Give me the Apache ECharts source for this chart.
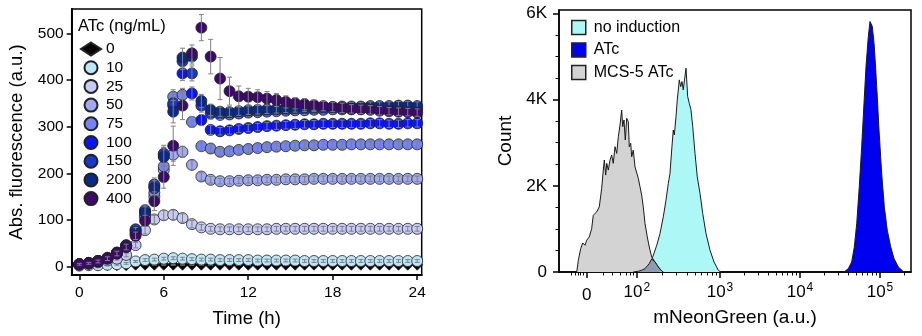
<!DOCTYPE html>
<html><head><meta charset="utf-8">
<script src="https://cdn.jsdelivr.net/npm/echarts@6/dist/echarts.min.js"></script>
<style>html,body{margin:0;padding:0;background:#fff}#c{width:922px;height:336px}</style>
</head><body><div id="c"></div>
<script>
// ---------- Left panel: time course ----------
const hours = [0,0.67,1.33,2,2.67,3.33,4,4.67,5.33,6,6.67,7.33,8,8.67,9.33,10,10.67,11.33,12,12.67,13.33,14,14.67,15.33,16,16.67,17.33,18,18.67,19.33,20,20.67,21.33,22,22.67,23.33,24];
const concLabels = ['0','10','25','50','75','100','150','200','400'];
const timeTicks = [0,6,12,18,24];
const fluorTicks = [0,100,200,300,400,500];

const atc0   = [3,3,3,3,3,3,4,4,4,4,4,4,4,4,4,4,4,4,4,4,4,4,4,4,4,4,4,4,4,4,4,4,4,4,4,4,4];
const atc10  = [2,3,3,4,5,7,11,14,15,17,18,17,16,15,15,14,14,14,14,13,13,13,13,13,12,12,12,12,12,12,12,12,12,12,12,12,12];
const atc25  = [4,6,9,13,17,25,46,78,101,110,111,104,91,84,81,80,80,80,80,80,80,81,81,81,81,81,81,81,81,81,81,81,81,81,81,81,81];
const atc50  = [5,7,11,17,28,42,70,106,150,207,240,246,218,193,186,183,183,184,185,185,186,186,187,187,187,188,188,188,188,188,188,188,188,188,188,188,188];
const atc75  = [5,7,12,18,29,44,72,110,158,215,364,368,310,258,253,246,247,250,252,254,256,257,258,259,260,260,261,261,261,262,262,262,262,262,262,262,262];
const atc100 = [5,7,12,18,29,45,78,118,172,240,345,414,371,314,293,290,292,295,297,299,301,302,303,304,305,305,306,306,306,306,306,307,307,306,306,307,307];
const atc150 = [5,8,12,19,30,46,80,121,176,242,350,440,414,345,328,325,326,328,330,331,332,333,334,335,335,336,336,337,337,337,338,338,338,339,339,339,338];
const atc200 = [5,8,12,18,30,45,76,116,168,235,332,448,450,355,336,332,331,333,335,336,337,338,339,340,341,341,342,342,343,343,343,344,344,344,345,345,344];
const atc400 = [5,7,11,17,28,42,66,98,140,192,259,345,457,512,450,403,376,365,364,363,360,357,353,350,348,346,344,342,340,338,337,336,334,333,332,331,330];

const err0   = [1,1,1,1,1,1,1,1,1,1,1,1,1,1,1,1,1,1,1,1,1,1,1,1,1,1,1,1,1,1,1,1,1,1,1,1,1];
const err10  = [1,1,1,1,2,2,2,3,3,3,3,3,3,3,3,3,3,3,3,3,3,3,3,3,3,3,3,3,3,3,3,3,3,3,3,3,3];
const err25  = [1,1,2,2,3,4,6,8,9,10,10,9,8,6,5,5,5,5,5,5,5,5,5,5,5,5,5,5,5,5,5,5,5,5,5,5,5];
const err50  = [1,2,2,3,4,5,7,9,12,14,14,12,10,8,7,6,6,6,6,6,6,6,6,6,6,6,6,6,6,6,6,6,6,6,6,6,6];
const err75  = [1,2,2,3,4,5,7,10,12,15,15,14,12,10,8,7,7,7,7,7,7,7,7,7,7,7,7,7,7,7,7,7,7,7,7,7,7];
const err100 = [1,2,2,3,4,6,8,10,14,16,18,15,14,12,10,8,8,8,8,8,8,8,8,8,8,8,8,8,8,8,8,8,8,8,8,8,8];
const err150 = [1,2,2,3,4,6,8,11,14,18,22,18,16,14,12,10,9,9,9,9,9,9,9,9,9,9,9,9,9,9,9,9,9,9,9,9,9];
const err200 = [1,2,2,3,4,6,8,12,16,20,24,20,16,14,12,10,9,9,9,9,9,9,9,9,9,9,9,9,9,9,9,9,9,9,9,9,9];
const err400 = [2,2,3,4,5,6,8,12,20,24,42,30,18,28,37,45,30,22,18,16,15,14,13,12,12,11,10,10,10,9,9,9,9,8,8,8,8];

// ---------- Right panel: flow histograms (x in display/decade units) ----------
const flowTickPos = [1.334, 1.96, 3, 4, 5];
const flowTickExp = [null, 2, 3, 4, 5];
const flowMinorTicks = [1.146,1.1875,1.225,1.256,1.2875,1.5375,1.65,1.75,1.825,1.875,1.9125,
  2.273,2.456,2.586,2.687,2.769,2.839,2.899,2.952,
  3.301,3.477,3.602,3.699,3.778,3.845,3.903,3.954,
  4.301,4.477,4.602,4.699,4.778,4.845,4.903,4.954,5.301];
const countTicks = [0,2000,4000,6000];
const countMinorTicks = [500,1000,1500,2500,3000,3500,4500,5000,5500];

const mcsX = [1.209,1.229,1.259,1.284,1.3125,1.334,1.366,1.396,1.416,1.4375,1.459,1.491,1.521,1.541,1.554,1.571,1.584,1.604,1.625,1.646,1.666,1.6875,1.709,1.729,1.75,1.771,1.784,1.80,1.816,1.834,1.854,1.866,1.884,1.896,1.916,1.9375,1.979,2.0,2.021,2.041,2.0625,2.091,2.116,2.146,2.1875,2.229,2.271,2.291];
const mcsCount = [0,272,544,674,620,737,814,1009,1318,1279,1395,1512,1940,2365,2598,2249,2521,2365,2598,2714,2521,2907,2753,3140,3412,3760,3372,3528,3063,3567,3488,2907,2986,2674,2830,2442,2172,1977,1784,1512,1126,814,581,349,233,116,23,0];
const noIndX = [1.916,2.0,2.0625,2.116,2.159,2.209,2.25,2.291,2.325,2.354,2.375,2.396,2.416,2.429,2.45,2.466,2.479,2.491,2.509,2.525,2.541,2.559,2.575,2.584,2.596,2.616,2.6375,2.659,2.6875,2.716,2.75,2.784,2.825,2.875,2.925,2.979,3.009];
const noIndCount = [0,23,79,195,349,620,893,1279,1667,2056,2288,2830,3295,3179,3605,3993,4226,4458,4302,4419,4226,4498,4730,4458,4070,3916,3760,3372,2753,2209,1823,1358,893,505,233,40,0];
const atcX = [4.55,4.604,4.646,4.679,4.709,4.741,4.771,4.80,4.825,4.854,4.875,4.8875,4.904,4.929,4.959,4.9875,5.021,5.054,5.091,5.134,5.175,5.229,5.284,5.30];
const atcCount = [0,79,233,581,1126,1977,2907,3916,4767,5465,5814,5853,5698,5233,4302,3295,2288,1512,970,581,312,116,23,0];

// ---------- build ----------
const FONT = 'Liberation Sans, Arial, sans-serif';
const seriesVals = [atc0,atc10,atc25,atc50,atc75,atc100,atc150,atc200,atc400];
const seriesErrs = [err0,err10,err25,err50,err75,err100,err150,err200,err400];
const seriesColors = ['#000000','#bde6f8','#c6caf4','#a0a9f2','#7485f2','#0a14ff','#1838c8','#0a2a88','#3c0a6a'];

function errRender(params, api){
  const x = api.value(0), y = api.value(1), e = api.value(2);
  const hi = api.coord([x, y + e]), lo = api.coord([x, y - e]);
  const w = 2.5, st = {stroke:'#808080', lineWidth:1};
  return {type:'group', children:[
    {type:'line', shape:{x1:hi[0],y1:hi[1],x2:lo[0],y2:lo[1]}, style:st},
    {type:'line', shape:{x1:hi[0]-w,y1:hi[1],x2:hi[0]+w,y2:hi[1]}, style:st},
    {type:'line', shape:{x1:lo[0]-w,y1:lo[1],x2:lo[0]+w,y2:lo[1]}, style:st}
  ]};
}

const series = [];
concLabels.forEach((name, k) => {
  series.push({
    name, type:'scatter', xAxisIndex:0, yAxisIndex:0,
    symbol: k === 0 ? 'diamond' : 'circle', symbolSize: 11,
    itemStyle:{color: seriesColors[k], borderColor:'#222', borderWidth:0.8, opacity:1},
    data: hours.map((t,i) => [t, seriesVals[k][i]]),
    z: 2 + k*0.01, silent:true
  });
  series.push({
    type:'custom', xAxisIndex:0, yAxisIndex:0, renderItem: errRender,
    data: hours.map((t,i) => [t, seriesVals[k][i], seriesErrs[k][i]]),
    z: 2 + k*0.01 + 0.005, silent:true
  });
});

function interp(xs, ys, x){
  if (x <= xs[0] || x >= xs[xs.length-1]) return 0;
  for (let i = 1; i < xs.length; i++){
    if (x <= xs[i]) { const f = (x - xs[i-1])/(xs[i]-xs[i-1]); return ys[i-1] + f*(ys[i]-ys[i-1]); }
  }
  return 0;
}
const ovLo = noIndX[0], ovHi = mcsX[mcsX.length-1];
const ovX = Array.from(new Set(mcsX.concat(noIndX).filter(x => x >= ovLo && x <= ovHi))).sort((a,b)=>a-b);
const ovData = ovX.map(x => [x, Math.min(interp(mcsX,mcsCount,x), interp(noIndX,noIndCount,x))]);

function flowSeries(name, xs, ys, fill, z){
  return {name, type:'line', xAxisIndex:1, yAxisIndex:1, symbol:'none', smooth:false,
    data: xs.map((x,i)=>[x, ys[i]]),
    lineStyle:{color:'#1a1a1a', width:1}, itemStyle:{color: fill},
    areaStyle:{color: fill, opacity:1}, z, silent:true};
}
series.push(flowSeries('no induction', noIndX, noIndCount, '#adf7f7', 2));
series.push(flowSeries('ATc', atcX, atcCount, '#0000f0', 2.1));
series.push(flowSeries('MCS-5 ATc', mcsX, mcsCount, '#d3d3d3', 2.2));
series.push({type:'line', xAxisIndex:1, yAxisIndex:1, symbol:'none', data: ovData,
  lineStyle:{color:'#1a1a1a', width:1}, areaStyle:{color:'#8e9bb3', opacity:1}, z:2.3, silent:true});

const L0 = 71.7, LT = 9, LW = 350, LH = 266;
const R0 = 559, RT = 10, RW = 352, RH = 262;

const option = {
  animation:false,
  textStyle:{fontFamily:FONT, color:'#000'},
  title:{text:'ATc (ng/mL)', left:73, top:13, textStyle:{fontFamily:FONT, fontSize:16.5, fontWeight:'normal', color:'#000'}},
  grid:[
    {left:L0, top:LT, width:LW, height:LH, show:true, borderColor:'#000', borderWidth:1.5, containLabel:false},
    {left:R0, top:RT, width:RW, height:RH, show:true, borderColor:'#000', borderWidth:1.5, containLabel:false}
  ],
  legend:[
    {data: concLabels, orient:'vertical', left:75, top:36, itemWidth:20, itemHeight:13, itemGap:2.7,
     textStyle:{fontFamily:FONT, fontSize:15.5, lineHeight:15, color:'#000', padding:[0,0,0,0]}, selectedMode:false},
    {data:['no induction','ATc','MCS-5 ATc'], orient:'vertical', left:566, top:14.5, icon:'rect',
     itemWidth:14, itemHeight:14, itemGap:6.5,
     itemStyle:{borderColor:'#222', borderWidth:1.5},
     textStyle:{fontFamily:FONT, fontSize:16, lineHeight:16, color:'#000', padding:[0,0,0,3]}, selectedMode:false}
  ],
  xAxis:[
    {gridIndex:0, type:'value', position:'bottom', min:-0.54, max:24.32, name:'Time (h)', nameLocation:'middle', nameGap:34,
     nameTextStyle:{fontFamily:FONT, fontSize:18.5, color:'#000'},
     axisLine:{show:true, onZero:false, lineStyle:{color:'#000', width:2}},
     axisTick:{show:true, customValues:timeTicks, length:5, lineStyle:{color:'#000', width:1.5}},
     axisLabel:{customValues:timeTicks, margin:10, fontFamily:FONT, fontSize:15.5, color:'#000'},
     splitLine:{show:false}},
    {gridIndex:1, type:'value', position:'bottom', min:0.9875, max:5.3875, name:'mNeonGreen (a.u.)', nameLocation:'middle', nameGap:36,
     nameTextStyle:{fontFamily:FONT, fontSize:19, color:'#000'},
     axisLine:{show:true, onZero:false, lineStyle:{color:'#000', width:1.5}},
     axisTick:{show:true, customValues:flowTickPos, length:6, lineStyle:{color:'#000', width:1.5}},
     axisLabel:{customValues:flowTickPos, margin:12, color:'#000',
       formatter: v => { const i = flowTickPos.findIndex(p => Math.abs(p - v) < 1e-6); if (i < 0) return '';
         const e = flowTickExp[i]; return e == null ? '{z|0}' : '{n|10}{e|' + e + '}'; },
       rich:{
         z:{fontFamily:FONT, fontSize:17, lineHeight:17, color:'#000', padding:[5,0,0,0]},
         n:{fontFamily:FONT, fontSize:17, lineHeight:17, color:'#000'},
         e:{fontFamily:FONT, fontSize:12, lineHeight:12, color:'#000', padding:[0,0,10,1]}
       }},
     splitLine:{show:false}},
    {gridIndex:1, type:'value', position:'bottom', offset:0, min:0.9875, max:5.3875,
     axisLine:{show:false}, axisLabel:{show:false}, splitLine:{show:false},
     axisTick:{show:true, customValues:flowMinorTicks, length:3.5, lineStyle:{color:'#000', width:1}}}
  ],
  yAxis:[
    {gridIndex:0, type:'value', position:'left', min:-18, max:552, name:'Abs. fluorescence (a.u.)', nameLocation:'middle', nameGap:45,
     nameTextStyle:{fontFamily:FONT, fontSize:18.5, color:'#000'},
     axisLine:{show:true, onZero:false, lineStyle:{color:'#000', width:2}},
     axisTick:{show:true, customValues:fluorTicks, length:5, lineStyle:{color:'#000', width:1.5}},
     axisLabel:{customValues:fluorTicks, margin:8, fontFamily:FONT, fontSize:15.5, color:'#000'},
     splitLine:{show:false}},
    {gridIndex:1, type:'value', position:'left', min:0, max:6080, name:'Count', nameLocation:'middle', nameGap:44,
     nameTextStyle:{fontFamily:FONT, fontSize:19, color:'#000'},
     axisLine:{show:true, onZero:false, lineStyle:{color:'#000', width:1.5}},
     axisTick:{show:true, customValues:countTicks, length:6, lineStyle:{color:'#000', width:1.5}},
     axisLabel:{customValues:countTicks, margin:12, fontFamily:FONT, fontSize:17, color:'#000',
       formatter: v => v === 0 ? '0' : (v/1000) + 'K'},
     splitLine:{show:false}},
    {gridIndex:1, type:'value', position:'left', offset:0, min:0, max:6080,
     axisLine:{show:false}, axisLabel:{show:false}, splitLine:{show:false},
     axisTick:{show:true, customValues:countMinorTicks, length:3.5, lineStyle:{color:'#000', width:1}}}
  ],
  series
};
const chart = echarts.init(document.getElementById('c'), null, {renderer:'canvas'});
chart.setOption(option);
</script></body></html>
